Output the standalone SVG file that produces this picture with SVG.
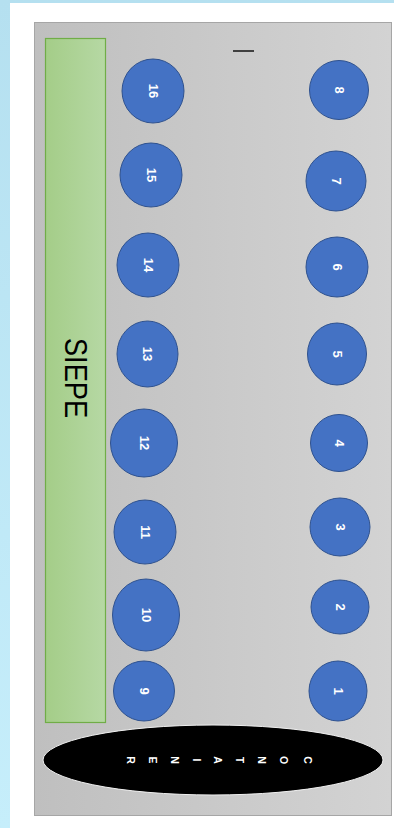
<svg xmlns="http://www.w3.org/2000/svg" width="394" height="828" viewBox="0 0 394 828">
<defs>
<linearGradient id="bg" x1="0" y1="0" x2="0" y2="1"><stop offset="0" stop-color="#b5e0f0"/><stop offset="1" stop-color="#c6eefb"/></linearGradient>
<linearGradient id="gray" x1="0" y1="0" x2="1" y2="0"><stop offset="0" stop-color="#bfbfbf"/><stop offset="1" stop-color="#d3d3d3"/></linearGradient>
<linearGradient id="green" x1="0" y1="0" x2="1" y2="0"><stop offset="0" stop-color="#a4cd88"/><stop offset="1" stop-color="#b6d8a4"/></linearGradient>
</defs>
<style>
.n ellipse{fill:#4472c4;stroke:#2f528f;stroke-width:1}
.n text{fill:#fff;font-family:"Liberation Sans",Arial,sans-serif;font-size:13px;font-weight:bold;text-anchor:middle;dominant-baseline:central}
.c text{fill:#fff;font-family:"Liberation Sans",Arial,sans-serif;font-size:10.5px;font-weight:bold;text-anchor:middle;dominant-baseline:central}
</style>
<rect x="0" y="0" width="394" height="828" fill="url(#bg)"/>
<rect x="10" y="3" width="384" height="825" fill="#ffffff"/>
<rect id="area" x="34.5" y="22.5" width="357" height="793" fill="url(#gray)" stroke="#a6a6a6" stroke-width="1"/>
<g id="siepe">
<rect x="45.5" y="38.5" width="60" height="684" fill="url(#green)" stroke="#70ad47" stroke-width="1.2"/>
<text transform="translate(76 378) rotate(90)" text-anchor="middle" dominant-baseline="central" font-family="Liberation Sans,Arial,sans-serif" font-size="32" textLength="80" lengthAdjust="spacingAndGlyphs" fill="#000">SIEPE</text>
</g>
<g id="connectors"></g>
<line id="dash" x1="233" y1="51" x2="254" y2="51" stroke="#404040" stroke-width="2"/>
<g id="n8" class="n"><ellipse cx="339" cy="90" rx="29.5" ry="29.5"/><text transform="translate(339 90) rotate(90)">8</text></g>
<g id="n7" class="n"><ellipse cx="336" cy="181" rx="30" ry="30"/><text transform="translate(336 181) rotate(90)">7</text></g>
<g id="n6" class="n"><ellipse cx="337" cy="267" rx="31" ry="30"/><text transform="translate(337 267) rotate(90)">6</text></g>
<g id="n5" class="n"><ellipse cx="337" cy="354" rx="29.5" ry="31"/><text transform="translate(337 354) rotate(90)">5</text></g>
<g id="n4" class="n"><ellipse cx="339" cy="443" rx="28.5" ry="28.5"/><text transform="translate(339 443) rotate(90)">4</text></g>
<g id="n3" class="n"><ellipse cx="340" cy="527" rx="30" ry="29"/><text transform="translate(340 527) rotate(90)">3</text></g>
<g id="n2" class="n"><ellipse cx="340" cy="607" rx="29" ry="27"/><text transform="translate(340 607) rotate(90)">2</text></g>
<g id="n1" class="n"><ellipse cx="338" cy="691" rx="29" ry="30"/><text transform="translate(338 691) rotate(90)">1</text></g>
<g id="n16" class="n"><ellipse cx="153" cy="91" rx="31" ry="32"/><text transform="translate(153 91) rotate(90)">16</text></g>
<g id="n15" class="n"><ellipse cx="151" cy="175" rx="31" ry="32"/><text transform="translate(151 175) rotate(90)">15</text></g>
<g id="n14" class="n"><ellipse cx="148" cy="265" rx="31" ry="32"/><text transform="translate(148 265) rotate(90)">14</text></g>
<g id="n13" class="n"><ellipse cx="147.5" cy="354" rx="30.5" ry="33"/><text transform="translate(147.5 354) rotate(90)">13</text></g>
<g id="n12" class="n"><ellipse cx="144" cy="443" rx="33.5" ry="34"/><text transform="translate(144 443) rotate(90)">12</text></g>
<g id="n11" class="n"><ellipse cx="145" cy="532" rx="31" ry="32"/><text transform="translate(145 532) rotate(90)">11</text></g>
<g id="n10" class="n"><ellipse cx="146" cy="615" rx="33.5" ry="36"/><text transform="translate(146 615) rotate(90)">10</text></g>
<g id="n9" class="n"><ellipse cx="144" cy="691" rx="30.5" ry="30"/><text transform="translate(144 691) rotate(90)">9</text></g>
<g id="container" class="c">
<ellipse cx="213" cy="760" rx="170" ry="35" fill="#000" stroke="#f0f0f0" stroke-width="1"/>
<text transform="translate(308 760) rotate(90)">C</text>
<text transform="translate(284 760) rotate(90)">O</text>
<text transform="translate(262 760) rotate(90)">N</text>
<text transform="translate(240 760) rotate(90)">T</text>
<text transform="translate(218 760) rotate(90)">A</text>
<text transform="translate(197 760) rotate(90)">I</text>
<text transform="translate(175 760) rotate(90)">N</text>
<text transform="translate(153 760) rotate(90)">E</text>
<text transform="translate(131 760) rotate(90)">R</text>
</g>
</svg>
